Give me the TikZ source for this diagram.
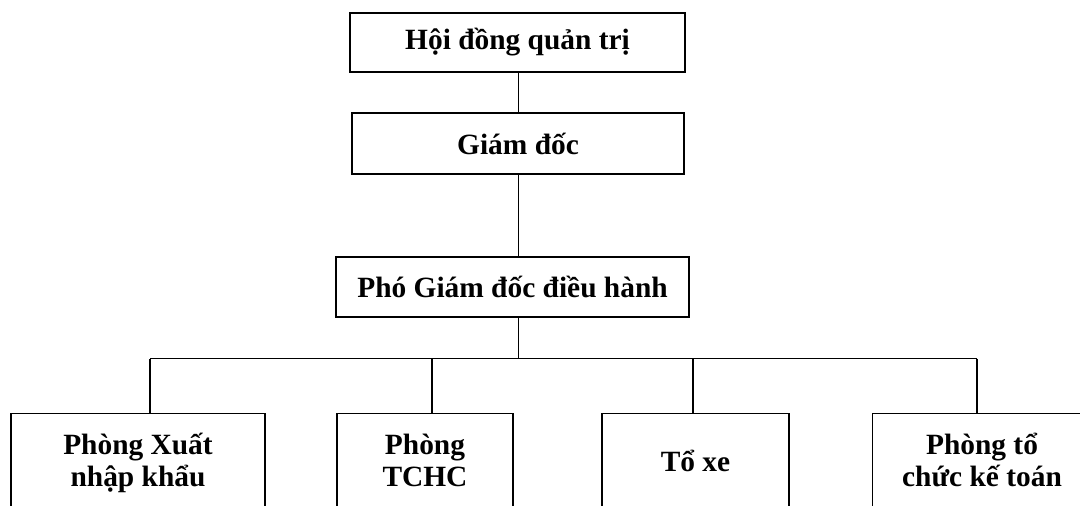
\documentclass[tikz,border=0pt]{standalone}
\usepackage{fontspec}
\setmainfont{Liberation Serif}
\begin{document}
\begin{tikzpicture}[x=0.5pt,y=-0.5pt,
  box/.style={draw=black,line width=0.7pt,inner sep=0pt,minimum width=#1,anchor=center},
  txt/.style={font=\bfseries\fontsize{14.7}{16}\selectfont,align=center,inner sep=0pt},
  conn/.style={line width=0.7pt},
  mainconn/.style={line width=0.9pt}]
\useasboundingbox (0,0) rectangle (1080,505);
\clip (0,0) rectangle (1080,505);
% upper boxes
\node[box=167.5pt,minimum height=29.5pt,txt] (A) at (517.5,42.5) {Hội đồng quản trị};
\node[box=166pt,minimum height=30.5pt,txt] (B) at (518,143.5) {Giám đốc};
\node[box=176.5pt,minimum height=30pt,txt] (C) at (512.5,287) {Phó Giám đốc điều hành};
% lower boxes (cut by the lower edge)
\node[box=127pt,minimum height=73.25pt] (d1) at (138,486.75) {};
\node[box=88pt,minimum height=73.25pt] (d2) at (425,486.75) {};
\node[box=93.5pt,minimum height=73.25pt] (d3) at (695.5,486.75) {};
\node[box=109.5pt,minimum height=73.25pt] (d4) at (982,486.75) {};
\node[txt,anchor=base] (t1) at (138,486) {Phòng Xuất\\nhập khẩu};
\node[txt,anchor=base] (t2) at (425,486) {Phòng\\TCHC};
\node[txt,anchor=base] (t3) at (695.5,471) {Tổ xe};
\node[txt,anchor=base] (t4) at (982,486) {Phòng tổ\\chức kế toán};
% connectors
\coordinate (h1) at (150,358.5);
\coordinate (h2) at (432,358.5);
\coordinate (h3) at (693,358.5);
\coordinate (h4) at (977,358.5);
\draw[conn] (A.south -| 518.5,0) -- (B.north -| 518.5,0);
\draw[mainconn] (B.south -| 518.5,0) -- (C.north -| 518.5,0);
\draw[mainconn] (C.south -| 518.5,0) -- (h1 -| 518.5,0);
\draw[conn] (h1) -- (h4);
\draw[conn] (h1) -- (h1 |- d1.north);
\draw[conn] (h2) -- (h2 |- d2.north);
\draw[conn] (h3) -- (h3 |- d3.north);
\draw[conn] (h4) -- (h4 |- d4.north);
\end{tikzpicture}
\end{document}
